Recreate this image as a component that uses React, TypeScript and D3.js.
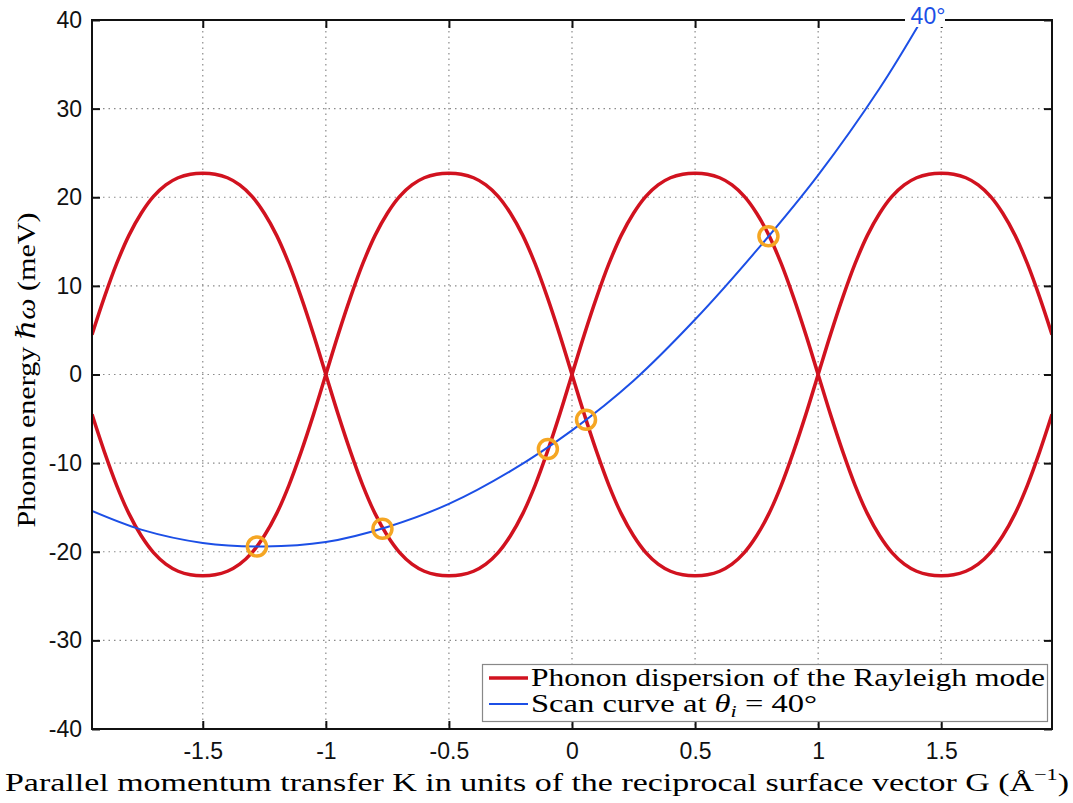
import React, { useEffect, useRef } from 'react';
import * as d3 from 'd3';

// tick values / labels
const kTicks = [-1.5, -1, -0.5, 0, 0.5, 1, 1.5];
const kTickLabels = ['-1.5', '-1', '-0.5', '0', '0.5', '1', '1.5'];
const eTicks = [-40, -30, -20, -10, 0, 10, 20, 30, 40];
const eTickLabels = ['-40', '-30', '-20', '-10', '0', '10', '20', '30', '40'];

// Rayleigh mode dispersion, two branches (step 0.05)
const dispK = [-1.95, -1.9, -1.85, -1.8, -1.75, -1.7, -1.65, -1.6, -1.55, -1.5,
  -1.45, -1.4, -1.35, -1.3, -1.25, -1.2, -1.15, -1.1, -1.05, -1.0,
  -0.95, -0.9, -0.85, -0.8, -0.75, -0.7, -0.65, -0.6, -0.55, -0.5,
  -0.45, -0.4, -0.35, -0.3, -0.25, -0.2, -0.15, -0.1, -0.05, 0,
  0.05, 0.1, 0.15, 0.2, 0.25, 0.3, 0.35, 0.4, 0.45, 0.5,
  0.55, 0.6, 0.65, 0.7, 0.75, 0.8, 0.85, 0.9, 0.95, 1.0,
  1.05, 1.1, 1.15, 1.2, 1.25, 1.3, 1.35, 1.4, 1.45, 1.5,
  1.55, 1.6, 1.65, 1.7, 1.75, 1.8, 1.85, 1.9, 1.95];
const dispBranchA = [4.5, 8.7, 12.5, 15.7, 18.2, 20.1, 21.4, 22.2, 22.6, 22.7,
  22.6, 22.2, 21.4, 20.1, 18.2, 15.7, 12.5, 8.7, 4.5, 0,
  -4.5, -8.7, -12.5, -15.7, -18.2, -20.1, -21.4, -22.2, -22.6, -22.7,
  -22.6, -22.2, -21.4, -20.1, -18.2, -15.7, -12.5, -8.7, -4.5, 0,
  4.5, 8.7, 12.5, 15.7, 18.2, 20.1, 21.4, 22.2, 22.6, 22.7,
  22.6, 22.2, 21.4, 20.1, 18.2, 15.7, 12.5, 8.7, 4.5, 0,
  -4.5, -8.7, -12.5, -15.7, -18.2, -20.1, -21.4, -22.2, -22.6, -22.7,
  -22.6, -22.2, -21.4, -20.1, -18.2, -15.7, -12.5, -8.7, -4.5];
const dispBranchB = [-4.5, -8.7, -12.5, -15.7, -18.2, -20.1, -21.4, -22.2, -22.6, -22.7,
  -22.6, -22.2, -21.4, -20.1, -18.2, -15.7, -12.5, -8.7, -4.5, 0,
  4.5, 8.7, 12.5, 15.7, 18.2, 20.1, 21.4, 22.2, 22.6, 22.7,
  22.6, 22.2, 21.4, 20.1, 18.2, 15.7, 12.5, 8.7, 4.5, 0,
  -4.5, -8.7, -12.5, -15.7, -18.2, -20.1, -21.4, -22.2, -22.6, -22.7,
  -22.6, -22.2, -21.4, -20.1, -18.2, -15.7, -12.5, -8.7, -4.5, 0,
  4.5, 8.7, 12.5, 15.7, 18.2, 20.1, 21.4, 22.2, 22.6, 22.7,
  22.6, 22.2, 21.4, 20.1, 18.2, 15.7, 12.5, 8.7, 4.5];

// scan curve at theta_i = 40 deg
const scanK = [-1.95, -1.75, -1.5, -1.25, -1, -0.75, -0.5, -0.25, 0, 0.25, 0.5, 0.75, 1, 1.25, 1.42];
const scanE = [-15.4, -17.5, -19.0, -19.4, -18.9, -17.2, -14.6, -10.9, -6.3, -0.7, 6.2, 14.0, 22.5, 32.3, 40.0];

// marked intersections
const crossK = [-1.28, -0.77, -0.098, 0.057, 0.798];
const crossE = [-19.4, -17.4, -8.4, -5.1, 15.6];

const App = () => {
  const ref = useRef<SVGSVGElement>(null);

  useEffect(() => {
    const svg = d3.select(ref.current);
    svg.selectAll('*').remove();

    const left = 92, right = 1052, top = 20, bottom = 729;
    const x = d3.scaleLinear().domain([-1.95, 1.95]).range([left, right]);
    const y = d3.scaleLinear().domain([-40, 40]).range([bottom, top]);

    const red = '#d1121f';
    const blue = '#1c4fe6';
    const orange = '#f5a623';

    svg.append('rect').attr('width', 1073).attr('height', 803).attr('fill', '#fff');

    // grid
    const grid = svg.append('g').attr('stroke', '#8a8a8a').attr('stroke-width', 1.2)
      .attr('stroke-dasharray', '1.5,4');
    grid.selectAll('.vg').data(kTicks).enter().append('line')
      .attr('x1', d => x(d)).attr('x2', d => x(d)).attr('y1', top).attr('y2', bottom);
    grid.selectAll('.hg').data(eTicks.slice(1, -1)).enter().append('line')
      .attr('y1', d => y(d)).attr('y2', d => y(d)).attr('x1', left).attr('x2', right);

    svg.append('clipPath').attr('id', 'plotclip').append('rect')
      .attr('x', left).attr('y', top - 2).attr('width', right - left).attr('height', bottom - top + 2);

    const line = d3.line<[number, number]>().x(d => x(d[0])).y(d => y(d[1])).curve(d3.curveCatmullRom);
    const plot = svg.append('g').attr('clip-path', 'url(#plotclip)');

    [dispBranchA, dispBranchB].forEach(branch => {
      plot.append('path')
        .datum(dispK.map((k, i) => [k, branch[i]] as [number, number]))
        .attr('d', line).attr('fill', 'none').attr('stroke', red).attr('stroke-width', 3.5);
    });

    plot.append('path')
      .datum(scanK.map((k, i) => [k, scanE[i]] as [number, number]))
      .attr('d', line).attr('fill', 'none').attr('stroke', blue).attr('stroke-width', 2);

    plot.selectAll('.cross').data(crossK).enter().append('circle')
      .attr('cx', d => x(d)).attr('cy', (d, i) => y(crossE[i])).attr('r', 9.5)
      .attr('fill', 'none').attr('stroke', orange).attr('stroke-width', 3.5);

    // axes
    const tickFont = (g: any) => g.selectAll('text')
      .attr('font-family', '"Liberation Sans", Arial, sans-serif').attr('font-size', 23).attr('fill', '#111');

    svg.append('g').attr('transform', `translate(0,${bottom})`)
      .call(d3.axisBottom(x).tickValues(kTicks).tickFormat((d, i) => kTickLabels[i]).tickSize(-8).tickPadding(14))
      .call(tickFont);
    svg.append('g').attr('transform', `translate(0,${top})`)
      .call(d3.axisTop(x).tickValues(kTicks).tickFormat(() => '').tickSize(-8));
    svg.append('g').attr('transform', `translate(${left},0)`)
      .call(d3.axisLeft(y).tickValues(eTicks).tickFormat((d, i) => eTickLabels[i]).tickSize(-8).tickPadding(10))
      .call(tickFont);
    svg.append('g').attr('transform', `translate(${right},0)`)
      .call(d3.axisRight(y).tickValues(eTicks).tickFormat(() => '').tickSize(-8));
    svg.selectAll('.domain').remove();
    svg.selectAll('.tick line').attr('stroke', '#111').attr('stroke-width', 2);

    svg.append('rect').attr('x', left).attr('y', top).attr('width', right - left).attr('height', bottom - top)
      .attr('fill', 'none').attr('stroke', '#111').attr('stroke-width', 2);

    // 40 deg label
    svg.append('rect').attr('x', 905).attr('y', 0).attr('width', 40).attr('height', 27).attr('fill', '#fff');
    svg.append('text').attr('x', 928).attr('y', 24).attr('text-anchor', 'middle')
      .attr('font-family', '"Liberation Sans", Arial, sans-serif').attr('font-size', 23).attr('fill', blue)
      .text('40°');

    // legend
    const serif = '"Liberation Serif", "DejaVu Serif", serif';
    const lg = svg.append('g');
    lg.append('rect').attr('x', 482.5).attr('y', 664.5).attr('width', 565).attr('height', 57)
      .attr('fill', '#fff').attr('stroke', '#888').attr('stroke-width', 1.2);
    lg.append('line').attr('x1', 489).attr('x2', 528).attr('y1', 678).attr('y2', 678)
      .attr('stroke', red).attr('stroke-width', 3.5);
    lg.append('line').attr('x1', 489).attr('x2', 528).attr('y1', 704).attr('y2', 704)
      .attr('stroke', blue).attr('stroke-width', 2);
    lg.append('text').attr('x', 531).attr('y', 686).attr('font-family', serif).attr('font-size', 25)
      .attr('textLength', 514).attr('lengthAdjust', 'spacingAndGlyphs')
      .text('Phonon dispersion of the Rayleigh mode');
    const t2 = lg.append('text').attr('x', 531).attr('y', 712).attr('font-family', serif).attr('font-size', 25)
      .attr('textLength', 286).attr('lengthAdjust', 'spacingAndGlyphs');
    t2.append('tspan').text('Scan curve at ');
    t2.append('tspan').attr('font-style', 'italic').text('θ');
    t2.append('tspan').attr('font-style', 'italic').attr('font-size', 17).attr('dy', 5).text('i');
    t2.append('tspan').attr('dy', -5).text(' = 40°');

    // axis titles
    const xt = svg.append('text').attr('x', 5).attr('y', 791).attr('font-family', serif).attr('font-size', 26)
      .attr('textLength', 1064).attr('lengthAdjust', 'spacingAndGlyphs');
    xt.append('tspan').text('Parallel momentum transfer K in units of the reciprocal surface vector G (Å');
    xt.append('tspan').attr('font-size', 17).attr('dy', -11).text('−1');
    xt.append('tspan').attr('dy', 11).text(')');

    const yt = svg.append('text').attr('transform', 'translate(35,370) rotate(-90)')
      .attr('text-anchor', 'middle').attr('font-family', serif).attr('font-size', 26)
      .attr('textLength', 315).attr('lengthAdjust', 'spacingAndGlyphs');
    yt.append('tspan').text('Phonon energy ');
    yt.append('tspan').attr('font-style', 'italic').text('ℏω');
    yt.append('tspan').text(' (meV)');
  }, []);

  return (
    <svg ref={ref} width={1073} height={803}
      style={{ position: 'absolute', left: 0, top: 0, display: 'block' }} />
  );
};

export default App;
